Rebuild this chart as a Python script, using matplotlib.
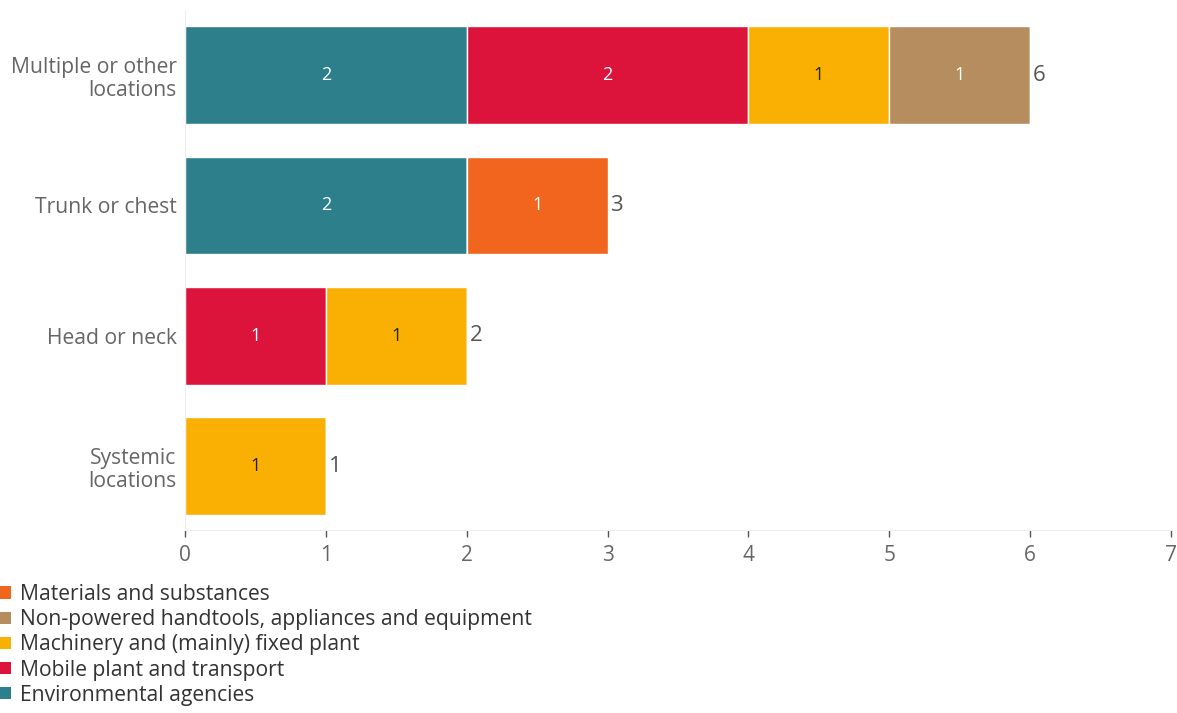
import matplotlib
matplotlib.use("Agg")
import matplotlib.pyplot as plt
from matplotlib.patches import Patch

plt.rcParams['font.family'] = ['Open Sans', 'DejaVu Sans']

categories = ["Systemic\nlocations", "Head or neck", "Trunk or chest", "Multiple or other\nlocations"]
series_names = ["Environmental agencies", "Mobile plant and transport",
                "Machinery and (mainly) fixed plant",
                "Non-powered handtools, appliances and equipment",
                "Materials and substances"]
series_values = {
    "Environmental agencies": [0, 0, 2, 2],
    "Mobile plant and transport": [0, 1, 0, 2],
    "Machinery and (mainly) fixed plant": [1, 1, 0, 1],
    "Non-powered handtools, appliances and equipment": [0, 0, 0, 1],
    "Materials and substances": [0, 0, 1, 0],
}
colors = {
    "Environmental agencies": "#2E7F8C",
    "Mobile plant and transport": "#DC143C",
    "Machinery and (mainly) fixed plant": "#F9B003",
    "Non-powered handtools, appliances and equipment": "#B58D5E",
    "Materials and substances": "#F2651F",
}
label_colors = {
    "Environmental agencies": "white",
    "Mobile plant and transport": "white",
    "Machinery and (mainly) fixed plant": "#222222",
    "Non-powered handtools, appliances and equipment": "white",
    "Materials and substances": "white",
}
xticks = [0, 1, 2, 3, 4, 5, 6, 7]

fig = plt.figure(figsize=(11.77, 7.13), dpi=100)
ax = fig.add_axes([185/1177, 1-530/713, (1171-185)/1177, (530-10)/713])

ypos = list(range(len(categories)))
left = [0]*len(categories)
for name in series_names:
    vals = series_values[name]
    ax.barh(ypos, vals, left=left, height=0.75, color=colors[name],
            edgecolor="white", linewidth=1)
    for i, v in enumerate(vals):
        if v > 0:
            ax.text(left[i] + v/2, ypos[i], str(v), ha="center", va="center",
                    fontsize=13, color=label_colors[name])
    left = [l + v for l, v in zip(left, vals)]

for i, tot in enumerate(left):
    ax.text(tot + 0.02, ypos[i], str(tot), ha="left", va="center", fontsize=16, color="#555555")

ax.set_xlim(0, 7)
ax.set_ylim(-0.49, 3.5)
ax.set_xticks(xticks)
ax.set_xticklabels([str(t) for t in xticks], fontsize=15, color="#666666")
ax.set_yticks(ypos)
ax.set_yticklabels(categories, fontsize=15.2, color="#666666", linespacing=1.15)
ax.tick_params(axis="y", length=0, pad=6)
ax.tick_params(axis="x", length=5, color="#555555", width=1, pad=6)
for s in ["top", "right"]:
    ax.spines[s].set_visible(False)
ax.spines["left"].set_color("#EEEEEE")
ax.spines["bottom"].set_color("#EEEEEE")

order = ["Materials and substances", "Non-powered handtools, appliances and equipment",
         "Machinery and (mainly) fixed plant", "Mobile plant and transport",
         "Environmental agencies"]
handles = [Patch(facecolor=colors[n], edgecolor="none") for n in order]
fig.legend(handles, order, loc="upper left", bbox_to_anchor=(0.0, 1-584/713),
           frameon=False, fontsize=15.2, handlelength=0.5, handleheight=0.5,
           handletextpad=0.45, labelspacing=0.2, borderpad=0, borderaxespad=0,
           labelcolor="#333333")

fig.savefig("out.png", dpi=100)
